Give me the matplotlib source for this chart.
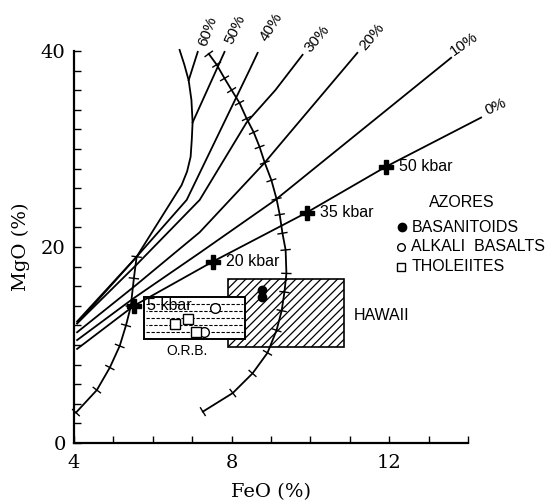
import numpy as np
import matplotlib
matplotlib.use('Agg')
import matplotlib.pyplot as plt
from matplotlib.patches import Rectangle
from matplotlib.ticker import MultipleLocator

# melting-percent contours, FeO vs MgO (wt %)
feo_0 = [4.08, 5.52, 7.52, 9.9, 11.92, 14.33]
mgo_0 = [9.6, 14.0, 18.5, 23.5, 28.2, 33.2]
feo_10 = [4.08, 5.49, 7.19, 9.11, 13.57]
mgo_10 = [10.5, 14.7, 19.4, 24.8, 39.3]
feo_20 = [4.08, 5.54, 7.19, 8.84, 9.11, 11.19]
mgo_20 = [11.3, 16.0, 21.5, 28.6, 29.9, 39.8]
feo_30 = [4.08, 5.59, 7.19, 8.38, 9.11, 9.8]
mgo_30 = [12.2, 18.2, 24.8, 32.7, 36.0, 39.6]
feo_40 = [4.08, 5.59, 6.86, 8.46, 8.66]
mgo_40 = [12.2, 19.0, 24.8, 38.1, 39.8]
feo_50 = [7.82, 7.01]
mgo_50 = [39.9, 32.7]
feo_60 = [7.14, 6.91]
mgo_60 = [39.9, 37.0]
# bounding arc and its continuation down to the axis
feo_arc = [6.68, 6.8, 6.91, 6.98, 7.01, 6.99, 6.96, 6.87, 6.73, 5.59, 4.08]
mgo_arc = [40.1, 38.6, 37.0, 35.0, 32.7, 31.0, 29.2, 27.7, 26.3, 19.0, 12.4]

# tick-marked curves
feo_left = [4.05, 4.58, 4.91, 5.16, 5.32, 5.44, 5.52, 5.59]
mgo_left = [3.1, 5.4, 7.7, 9.9, 12.0, 13.9, 16.8, 19.0]
feo_right = [7.42, 7.62, 7.82, 8.0, 8.2, 8.38, 8.56, 8.71, 8.84, 9.01, 9.14,
             9.22, 9.29, 9.37, 9.39, 9.34, 9.27, 9.14, 8.91, 8.53, 8.03, 7.27]
mgo_right = [39.7, 38.6, 37.2, 36.0, 34.7, 33.1, 31.7, 30.2, 28.6, 26.8, 24.9,
             23.3, 21.4, 19.7, 17.3, 15.4, 13.5, 11.5, 9.2, 7.1, 5.1, 3.2]

# pressures on the 0% line
kbar_feo = [5.52, 7.52, 9.9, 11.92]
kbar_mgo = [14.0, 18.5, 23.5, 28.2]
kbar_labels = ['5 kbar', '20 kbar', '35 kbar', '50 kbar']

# Azores samples
bas_feo = [8.78, 8.78]
bas_mgo = [15.6, 14.9]
alk_feo = [7.57, 7.29]
alk_mgo = [13.8, 11.3]
thol_feo = [6.89, 6.56, 7.09]
thol_mgo = [12.7, 12.1, 11.3]

# fields (FeO min, FeO max, MgO min, MgO max)
hawaii = (7.90, 10.84, 9.8, 16.7)
orb = (5.77, 8.35, 10.6, 14.9)

pct_labels = ['60%', '50%', '40%', '30%', '20%', '10%', '0%']
pct_pos = [(7.39, 42.0), (8.08, 42.2), (9.01, 42.4), (10.18, 41.2),
           (11.57, 41.4), (13.9, 40.7), (14.7, 34.3)]
pct_rot = [70, 65, 58, 50, 50, 35, 25]


def tick_marks(ax, xs, ys, half=4.5):
    pts = ax.transData.transform(np.column_stack([xs, ys]))
    d = np.gradient(pts, axis=0)
    d /= np.hypot(d[:, 0], d[:, 1])[:, None]
    n = np.column_stack([-d[:, 1], d[:, 0]]) * half
    inv = ax.transData.inverted()
    for p, v in zip(pts, n):
        a, b = inv.transform([p - v, p + v])
        ax.plot([a[0], b[0]], [a[1], b[1]], color='k', lw=1, clip_on=False)


plt.rcParams['font.family'] = 'DejaVu Serif'
plt.rcParams['hatch.linewidth'] = 0.9
sans = 'Liberation Sans'

fig = plt.figure(figsize=(5.52, 5.04), dpi=100)
ax = fig.add_axes([0.134, 0.121, 0.714, 0.778])
ax.set_xlim(4, 14)
ax.set_ylim(0, 40)
for s in ['top', 'right']:
    ax.spines[s].set_visible(False)
ax.spines['left'].set_linewidth(1.6)
ax.spines['bottom'].set_linewidth(1.6)
ax.xaxis.set_major_locator(MultipleLocator(4))
ax.xaxis.set_minor_locator(MultipleLocator(1))
ax.yaxis.set_major_locator(MultipleLocator(20))
ax.yaxis.set_minor_locator(MultipleLocator(2))
ax.tick_params(which='both', direction='in', length=5, width=1)
ax.tick_params(axis='x', labelsize=14, pad=8)
ax.tick_params(axis='y', labelsize=14, pad=6)
ax.set_xlabel('FeO (%)', fontsize=14, labelpad=8)
ax.set_ylabel('MgO (%)', fontsize=14, labelpad=8)

# Hawaii field (hatched) and ORB field (dashed) on top
x0, x1, y0, y1 = hawaii
ax.add_patch(Rectangle((x0, y0), x1 - x0, y1 - y0, facecolor='white',
                       edgecolor='k', hatch='////', lw=1.2, zorder=1))
x0, x1, y0, y1 = orb
ax.add_patch(Rectangle((x0, y0), x1 - x0, y1 - y0, facecolor='white',
                       edgecolor='k', lw=1.4, zorder=2))
for i, yy in enumerate(np.linspace(y0, y1, 7)[1:-1]):
    ax.hlines(yy, x0 + 0.05, x1 - 0.05, colors='k', lw=0.8,
              linestyles=[(i % 2 * 2, (3, 1.5))], zorder=2)

lw = 1.3
for fx, my in [(feo_0, mgo_0), (feo_10, mgo_10), (feo_20, mgo_20),
               (feo_30, mgo_30), (feo_40, mgo_40), (feo_50, mgo_50),
               (feo_60, mgo_60), (feo_arc, mgo_arc)]:
    ax.plot(fx, my, color='k', lw=lw, clip_on=False, zorder=3)

ax.plot(feo_left, mgo_left, color='k', lw=lw, clip_on=False, zorder=3)
ax.plot(feo_right, mgo_right, color='k', lw=lw, clip_on=False, zorder=3)
tick_marks(ax, feo_left, mgo_left)
tick_marks(ax, feo_right, mgo_right)

ax.plot(kbar_feo, kbar_mgo, 'P', color='k', ms=10, zorder=4, clip_on=False)
for fx, my, lab in zip(kbar_feo, kbar_mgo, kbar_labels):
    ax.text(fx + 0.33, my, lab, family=sans, fontsize=11.5, va='center',
            ha='left', zorder=5)

for lab, (px, py), r in zip(pct_labels, pct_pos, pct_rot):
    ax.text(px, py, lab, family=sans, fontsize=11, rotation=r,
            rotation_mode='anchor', ha='center', va='center')

ax.plot(bas_feo, bas_mgo, 'o', color='k', ms=6, zorder=4)
ax.plot(alk_feo, alk_mgo, 'o', mfc='white', mec='k', mew=1, ms=7, zorder=4)
ax.plot(thol_feo, thol_mgo, 's', mfc='white', mec='k', mew=1, ms=6.5, zorder=4)

# key
ax.text(13.85, 24.5, 'AZORES', family=sans, fontsize=11.5, ha='center', va='center')
ax.plot([12.32], [22.0], 'o', color='k', ms=6, clip_on=False)
ax.plot([12.3], [20.0], 'o', mfc='white', mec='k', ms=5.5, clip_on=False)
ax.plot([12.3], [18.0], 's', mfc='white', mec='k', ms=5.5, clip_on=False)
ax.text(12.56, 22.0, 'BASANITOIDS', family=sans, fontsize=11.5, va='center')
ax.text(12.56, 20.0, 'ALKALI  BASALTS', family=sans, fontsize=11.5, va='center')
ax.text(12.56, 18.0, 'THOLEIITES', family=sans, fontsize=11.5, va='center')

ax.text(11.09, 13.0, 'HAWAII', family=sans, fontsize=11.5, va='center')
ax.text(6.86, 9.4, 'O.R.B.', family=sans, fontsize=10, ha='center', va='center')

fig.savefig('out.png', dpi=100)
